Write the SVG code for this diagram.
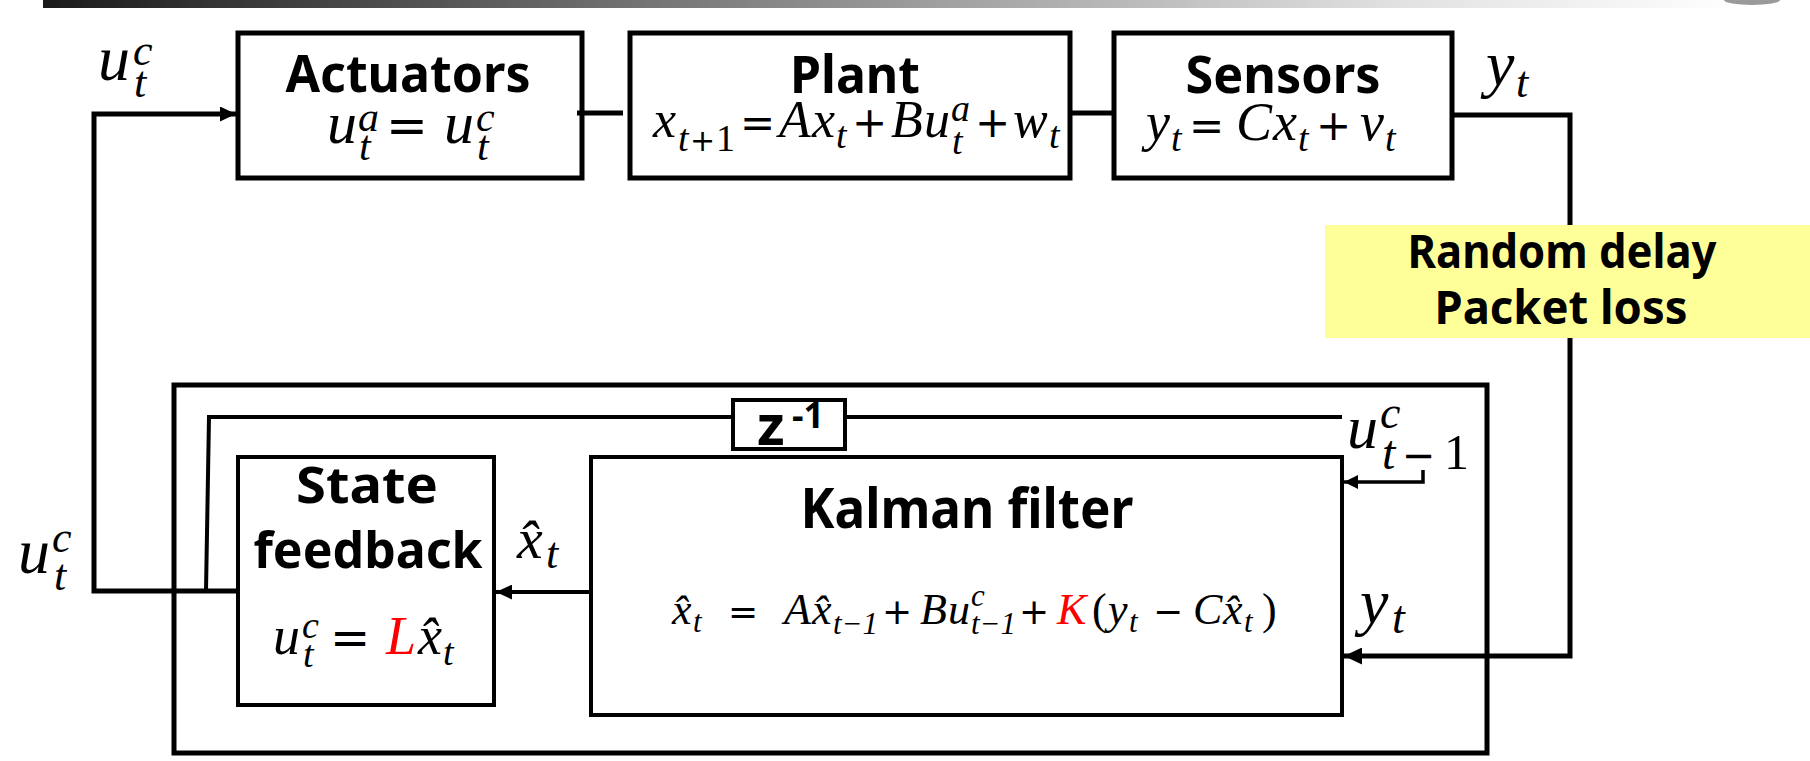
<svg xmlns="http://www.w3.org/2000/svg" width="1810" height="761" viewBox="0 0 1810 761">
<defs>
<linearGradient id="bar" x1="0" y1="0" x2="1" y2="0">
<stop offset="0" stop-color="#1a1a1a"/>
<stop offset="0.45" stop-color="#8c8c8c"/>
<stop offset="0.8" stop-color="#e2e2e2"/>
<stop offset="1" stop-color="#ffffff"/>
</linearGradient>
<marker id="ah" viewBox="0 0 16 15" refX="16" refY="7.5" markerWidth="16" markerHeight="15" markerUnits="userSpaceOnUse" orient="auto"><path d="M0,0 L16,7.5 L0,15 z" fill="#000"/></marker>
<marker id="ahL" viewBox="0 0 18 17" refX="18" refY="8.5" markerWidth="18" markerHeight="17" markerUnits="userSpaceOnUse" orient="auto"><path d="M0,0 L18,8.5 L0,17 z" fill="#000"/></marker>
<marker id="ahS" viewBox="0 0 14 14" refX="14" refY="7" markerWidth="14" markerHeight="14" markerUnits="userSpaceOnUse" orient="auto"><path d="M0,0 L14,7 L0,14 z" fill="#000"/></marker>
</defs>
<style>
.box{fill:#fff;stroke:#000;stroke-width:5}
.box4{fill:#fff;stroke:#000;stroke-width:4}
.frame{fill:none;stroke:#000;stroke-width:5}
.ln{fill:none;stroke:#000;stroke-width:5}
.ln4{fill:none;stroke:#000;stroke-width:4}
.ln3{fill:none;stroke:#000;stroke-width:3.5}
.title{font-family:"Noto Sans","DejaVu Sans",sans-serif;font-weight:700;fill:#000;text-anchor:middle}
.m{font-family:"Liberation Serif","DejaVu Serif",serif;font-style:italic;fill:#000}
.up{font-style:normal}
.op{font-family:"DejaVu Sans",sans-serif;font-style:normal}
.red{fill:#f00}
</style>

<rect x="43" y="0" width="1700" height="8" fill="url(#bar)"/>
<ellipse cx="1752" cy="0" rx="28" ry="5" fill="#9a9a9a"/>

<g id="controller">
<rect class="frame" x="174" y="385" width="1313" height="368"/>
</g>

<g id="actuators">
<rect class="box" x="238" y="33" width="344" height="145"/>
<text class="title" x="408" y="92" font-size="52" textLength="245" lengthAdjust="spacingAndGlyphs">Actuators</text>
<text class="m" font-size="60"><tspan x="327" y="143">u</tspan><tspan x="358" y="131" font-size="42">a</tspan><tspan x="359" y="160" font-size="42">t</tspan><tspan class="op" x="386" y="143" font-size="50">=</tspan><tspan x="444" y="143">u</tspan><tspan x="476" y="131" font-size="42">c</tspan><tspan x="477" y="160" font-size="42">t</tspan></text>
</g>

<g id="plant">
<rect class="box" x="630" y="33" width="440" height="145"/>
<text class="title" x="855" y="93" font-size="52" textLength="130" lengthAdjust="spacingAndGlyphs">Plant</text>
<text class="m" font-size="52"><tspan x="653" y="137">x</tspan><tspan x="678" y="151" font-size="38">t</tspan><tspan class="op" x="690" y="151" font-size="30">+</tspan><tspan class="up" x="716" y="151" font-size="38">1</tspan><tspan class="op" x="740" y="137" font-size="42">=</tspan><tspan x="779" y="137">A</tspan><tspan x="812" y="137">x</tspan><tspan x="836" y="148" font-size="38">t</tspan><tspan class="op" x="852" y="137" font-size="42">+</tspan><tspan x="891" y="137">B</tspan><tspan x="924" y="137">u</tspan><tspan x="951" y="121" font-size="38">a</tspan><tspan x="952" y="154" font-size="38">t</tspan><tspan class="op" x="975" y="137" font-size="42">+</tspan><tspan x="1013" y="137">w</tspan><tspan x="1049" y="148" font-size="38">t</tspan></text>
</g>

<g id="sensors">
<rect class="box" x="1114" y="33" width="338" height="145"/>
<text class="title" x="1283" y="93" font-size="52" textLength="195" lengthAdjust="spacingAndGlyphs">Sensors</text>
<text class="m" font-size="54"><tspan x="1146" y="140">y</tspan><tspan x="1171" y="151" font-size="38">t</tspan><tspan class="op" x="1189" y="140" font-size="42">=</tspan><tspan x="1236" y="140">C</tspan><tspan x="1273" y="140">x</tspan><tspan x="1298" y="151" font-size="38">t</tspan><tspan class="op" x="1316" y="140" font-size="42">+</tspan><tspan x="1360" y="140">v</tspan><tspan x="1385" y="151" font-size="38">t</tspan></text>
</g>

<g id="z-delay">
<rect class="box4" x="733" y="400" width="112" height="49"/>
<text x="757" y="445" font-family="Noto Sans, DejaVu Sans, sans-serif" font-weight="700" font-size="56">z</text>
<text x="792" y="428" font-family="Noto Sans, DejaVu Sans, sans-serif" font-weight="700" font-size="36">-1</text>
</g>

<g id="state-feedback">
<rect class="box4" x="238" y="457" width="256" height="248"/>
<text class="title" x="367" y="503" font-size="50" textLength="142" lengthAdjust="spacingAndGlyphs">State</text>
<text class="title" x="368" y="568" font-size="50" textLength="229" lengthAdjust="spacingAndGlyphs">feedback</text>
<text class="m" font-size="54"><tspan x="273" y="654">u</tspan><tspan x="302" y="638" font-size="38">c</tspan><tspan x="303" y="667" font-size="38">t</tspan><tspan class="op" x="330" y="654" font-size="48">=</tspan><tspan class="red" x="386" y="654">L</tspan><tspan x="418" y="654">x&#x302;</tspan><tspan x="443" y="665" font-size="38">t</tspan></text>
</g>

<g id="kalman">
<rect class="box4" x="591" y="457" width="751" height="258"/>
<text class="title" x="967" y="528" font-size="56" textLength="333" lengthAdjust="spacingAndGlyphs">Kalman filter</text>
<text class="m" font-size="44" fill="#222"><tspan x="672" y="624">x&#x302;</tspan><tspan x="693" y="632" font-size="31">t</tspan><tspan class="op" x="728" y="624" font-size="36">=</tspan><tspan x="784" y="624">A</tspan><tspan x="812" y="624">x&#x302;</tspan><tspan x="833" y="634" font-size="31">t−1</tspan><tspan class="op" x="882" y="624" font-size="36">+</tspan><tspan x="920" y="624">B</tspan><tspan x="948" y="624">u</tspan><tspan x="971" y="606" font-size="31">c</tspan><tspan x="971" y="634" font-size="31">t−1</tspan><tspan class="op" x="1019" y="624" font-size="36">+</tspan><tspan class="red" x="1057" y="624">K</tspan><tspan class="up" x="1092" y="624">(</tspan><tspan x="1108" y="624">y</tspan><tspan x="1129" y="632" font-size="31">t</tspan><tspan class="op" x="1153" y="624" font-size="36">−</tspan><tspan x="1193" y="624">C</tspan><tspan x="1223" y="624">x&#x302;</tspan><tspan x="1244" y="632" font-size="31">t</tspan><tspan class="up" x="1262" y="624">)</tspan></text>
</g>

<g id="connectors">
<path class="ln" d="M577,113 H623"/>
<path class="ln" d="M1068,113 H1116"/>
<path class="ln" d="M1450,115 H1570 V656 H1344" marker-end="url(#ahL)"/>
<path class="ln" d="M238,591 H94 V114 H236" marker-end="url(#ah)"/>
<path class="ln4" d="M206,591 L209,417 H733 M845,417 H1342"/>
<path class="ln3" d="M1423,470 V482 H1344" marker-end="url(#ahS)"/>
<path class="ln4" d="M591,592 H496" marker-end="url(#ah)"/>
</g>

<g id="network">
<rect x="1325" y="225" width="485" height="113" fill="#ffff99"/>
<text class="title" x="1562" y="268" font-size="46" textLength="309" lengthAdjust="spacingAndGlyphs">Random delay</text>
<text class="title" x="1561" y="324" font-size="46" textLength="253" lengthAdjust="spacingAndGlyphs">Packet loss</text>
</g>

<g id="labels">
<text class="m" font-size="64"><tspan x="98" y="80">u</tspan><tspan x="133" y="65" font-size="44">c</tspan><tspan x="134" y="97" font-size="44">t</tspan></text>
<text class="m" font-size="64"><tspan x="18" y="573">u</tspan><tspan x="52" y="552" font-size="44">c</tspan><tspan x="54" y="590" font-size="44">t</tspan></text>
<text class="m" font-size="64"><tspan x="1486" y="85">y</tspan><tspan x="1516" y="97" font-size="44">t</tspan></text>
<text class="m" font-size="64"><tspan x="1360" y="623">y</tspan><tspan x="1392" y="633" font-size="46">t</tspan></text>
<text class="m" font-size="58"><tspan x="517" y="558">x&#x302;</tspan><tspan x="546" y="568" font-size="44">t</tspan></text>
<text class="m" font-size="62"><tspan x="1347" y="448">u</tspan><tspan x="1380" y="428" font-size="46">c</tspan><tspan x="1382" y="469" font-size="48">t</tspan><tspan class="op" x="1402" y="469" font-size="40">−</tspan><tspan class="up" x="1444" y="469" font-size="50">1</tspan></text>
</g>
</svg>
